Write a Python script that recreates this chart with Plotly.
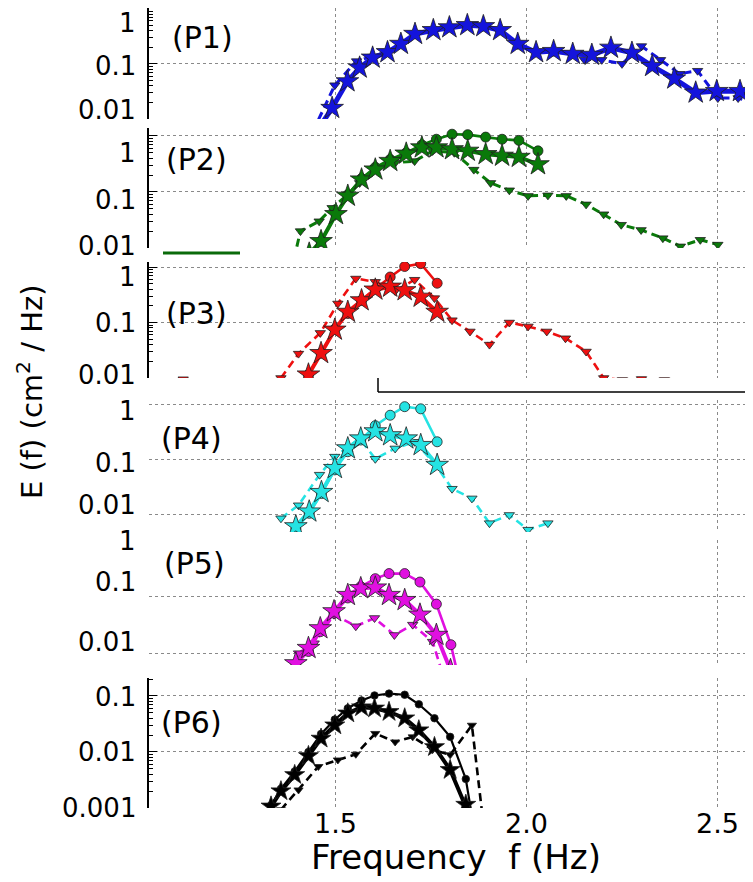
import math
import plotly.graph_objects as go
from plotly.subplots import make_subplots

# ---------------- data (frequency in Hz, E in cm^2/Hz) ----------------
F_P1_STAR = [1.45, 1.49, 1.53, 1.562, 1.596, 1.635, 1.67, 1.707, 1.755, 1.797, 1.844, 1.886, 1.93, 1.976,
             2.024, 2.07, 2.12, 2.17, 2.22, 2.275, 2.328, 2.386, 2.442, 2.497, 2.558, 2.60]
E_P1_STAR = [0.006, 0.0158, 0.048, 0.085, 0.129, 0.162, 0.229, 0.347, 0.407, 0.457, 0.501, 0.479, 0.407, 0.229,
             0.162, 0.170, 0.151, 0.145, 0.195, 0.158, 0.091, 0.054, 0.030, 0.032, 0.032, 0.024]
F_P1_TRI = [1.44, 1.497, 1.554, 1.596, 1.635, 1.67, 1.707, 1.755, 1.797, 1.844, 1.886, 1.93, 1.976, 2.024,
            2.07, 2.12, 2.15, 2.196, 2.249, 2.30, 2.35, 2.40, 2.447, 2.50, 2.553, 2.60]
E_P1_TRI = [0.006, 0.041, 0.112, 0.135, 0.165, 0.23, 0.34, 0.40, 0.45, 0.50, 0.47, 0.40, 0.22, 0.165,
            0.165, 0.15, 0.12, 0.118, 0.10, 0.21, 0.118, 0.066, 0.075, 0.024, 0.024, 0.019]

F_P2_STAR = [1.43, 1.461, 1.5, 1.531, 1.567, 1.603, 1.642, 1.684, 1.725, 1.763, 1.804, 1.845, 1.892, 1.935, 1.979, 2.029]
E_P2_STAR = [0.0079, 0.0132, 0.040, 0.085, 0.166, 0.25, 0.355, 0.48, 0.62, 0.62, 0.575, 0.54, 0.47, 0.44, 0.42, 0.31]
F_P2_CIRC = [1.43, 1.461, 1.5, 1.531, 1.567, 1.603, 1.642, 1.684, 1.725, 1.763, 1.804, 1.845, 1.892, 1.935, 1.979, 2.029]
E_P2_CIRC = [0.0079, 0.0132, 0.040, 0.089, 0.174, 0.275, 0.38, 0.50, 0.69, 0.87, 1.07, 1.05, 0.95, 0.87, 0.83, 0.54]
F_P2_TRI = [1.39, 1.407, 1.456, 1.49, 1.53, 1.562, 1.603, 1.655, 1.706, 1.753, 1.81, 1.861, 1.905, 1.954, 2.003,
            2.055, 2.103, 2.155, 2.201, 2.247, 2.299, 2.356, 2.402, 2.454, 2.50, 2.55]
E_P2_TRI = [0.0063, 0.020, 0.030, 0.052, 0.089, 0.145, 0.27, 0.33, 0.355, 0.54, 0.50, 0.25, 0.145, 0.107, 0.085,
            0.087, 0.085, 0.060, 0.040, 0.026, 0.021, 0.015, 0.0107, 0.014, 0.0115, 0.0063]

F_P3_STAR = [1.40, 1.428, 1.461, 1.497, 1.531, 1.567, 1.603, 1.642, 1.680, 1.722, 1.765]
E_P3_STAR = [0.005, 0.0115, 0.028, 0.074, 0.155, 0.25, 0.39, 0.44, 0.38, 0.29, 0.155]
F_P3_CIRC = [1.40, 1.428, 1.461, 1.497, 1.531, 1.567, 1.603, 1.642, 1.680, 1.722, 1.765]
E_P3_CIRC = [0.005, 0.0115, 0.028, 0.076, 0.145, 0.25, 0.40, 0.66, 1.02, 1.15, 0.51]
F_P3_TRI = [1.10, None, 1.356, 1.402, 1.459, 1.505, 1.552, 1.603, 1.655, 1.706, 1.758, 1.804, 1.851, 1.902,
            1.954, 2.003, 2.052, 2.101, 2.155, 2.201, 2.25, 2.30, 2.36]
E_P3_TRI = [0.0095, None, 0.010, 0.0275, 0.065, 0.22, 0.62, 0.54, 0.37, 0.59, 0.275, 0.11, 0.069, 0.040,
            0.10, 0.085, 0.069, 0.052, 0.030, 0.010, 0.0092, 0.0096, 0.0092]

F_P4_STAR = [1.395, 1.430, 1.462, 1.497, 1.531, 1.565, 1.603, 1.642, 1.684, 1.722, 1.765]
E_P4_STAR = [0.0062, 0.0115, 0.026, 0.071, 0.162, 0.245, 0.33, 0.28, 0.245, 0.186, 0.081]
F_P4_CIRC = [1.395, 1.430, 1.462, 1.497, 1.531, 1.565, 1.603, 1.642, 1.680, 1.722, 1.765]
E_P4_CIRC = [0.0056, 0.0107, 0.0245, 0.066, 0.141, 0.23, 0.42, 0.65, 0.93, 0.85, 0.214]
F_P4_TRI = [1.356, 1.402, 1.457, 1.497, 1.562, 1.603, 1.655, 1.706, 1.758, 1.804, 1.856, 1.902, 1.954, 2.003, 2.055]
E_P4_TRI = [0.0087, 0.015, 0.054, 0.115, 0.245, 0.105, 0.162, 0.214, 0.087, 0.030, 0.020, 0.0071, 0.010, 0.0054, 0.0071]

F_P5_STAR = [1.36, 1.395, 1.428, 1.459, 1.495, 1.531, 1.565, 1.603, 1.639, 1.680, 1.720, 1.763, 1.80, 1.82]
E_P5_STAR = [0.0032, 0.0066, 0.0123, 0.0275, 0.055, 0.107, 0.141, 0.145, 0.107, 0.087, 0.048, 0.021, 0.005, 0.0025]
F_P5_CIRC = [1.36, 1.395, 1.428, 1.459, 1.495, 1.531, 1.565, 1.603, 1.639, 1.680, 1.720, 1.763, 1.801, 1.84]
E_P5_CIRC = [0.0032, 0.0063, 0.0107, 0.024, 0.051, 0.095, 0.151, 0.209, 0.257, 0.257, 0.182, 0.074, 0.0141, 0.001]
F_P5_TRI = [1.402, 1.443, 1.495, 1.552, 1.601, 1.653, 1.701, 1.753, 1.79]
E_P5_TRI = [0.010, 0.015, 0.048, 0.030, 0.042, 0.021, 0.032, 0.016, 0.0025]

F_P6_STAR = [1.30, 1.330, 1.356, 1.392, 1.428, 1.461, 1.497, 1.531, 1.567, 1.601, 1.639, 1.680, 1.717, 1.758, 1.799, 1.840, 1.86]
E_P6_STAR = [0.0005, 0.00107, 0.002, 0.0039, 0.0085, 0.0174, 0.030, 0.049, 0.063, 0.060, 0.052, 0.040, 0.0245, 0.0123, 0.0048, 0.00115, 0.0005]
F_P6_CIRC = [1.30, 1.330, 1.356, 1.392, 1.428, 1.461, 1.497, 1.531, 1.567, 1.601, 1.639, 1.680, 1.717, 1.758, 1.799, 1.840, 1.86]
E_P6_CIRC = [0.0005, 0.00112, 0.0022, 0.0045, 0.010, 0.021, 0.038, 0.060, 0.083, 0.102, 0.110, 0.105, 0.071, 0.040, 0.0186, 0.0033, 0.0005]
F_P6_TRI = [1.356, 1.402, 1.454, 1.505, 1.552, 1.603, 1.655, 1.701, 1.753, 1.799, 1.856, 1.885]
E_P6_TRI = [0.00093, 0.0021, 0.0055, 0.0072, 0.0091, 0.0214, 0.0151, 0.0186, 0.011, 0.0089, 0.030, 0.0006]

PANEL_LABELS = ["(P1)", "(P2)", "(P3)", "(P4)", "(P5)", "(P6)"]
X_TICKS = [1.5, 2.0, 2.5]
X_TICK_TEXT = ["1.5", "2.0", "2.5"]
Y_TICKS = [[1, 0.1, 0.01]] * 5 + [[0.1, 0.01, 0.001]]
Y_TICK_TEXT = [["1", "0.1", "0.01"]] * 5 + [["0.1", "0.01", "0.001"]]
X_TITLE = "Frequency\u00a0\u00a0f (Hz)"
Y_TITLE = "E (f) (cm<sup>2</sup> / Hz)"

# ---------------- styling / layout ----------------
COLORS = ["#1414dc", "#0a7a0a", "#ee1010", "#25e3e3", "#e010e0", "#000000"]
FONT = "DejaVu Sans"
PAGE_OFF = 8                      # the page's default body margin shifts the figure by 8 px
W, H = 753 - PAGE_OFF, 882 - PAGE_OFF
L_M = 149 - PAGE_OFF
PLOT_BOTTOM = 808 - PAGE_OFF
B_M = H - PLOT_BOTTOM
PLOT_W = W - L_M
PLOT_H = PLOT_BOTTOM


def py2paper(py_page):
    return min(1.0, (PLOT_BOTTOM - (py_page - PAGE_OFF)) / PLOT_H)


def px2paper(px_page):
    return (px_page - PAGE_OFF - L_M) / PLOT_W


# panel extents in page pixels (top, bottom) and log10 ranges
PANEL_PIX = [(8, 119), (128, 248), (262, 378), (400, 532), (540, 665), (678, 808)]
PANEL_RANGE = [(-2, 0.012), (-2, 0.14), (-2, 0.09), (-2.31, 0.09), (-2.21, 0.005), (-3, -0.68)]
SHOW_SPINE = [True, True, True, False, False, True]
# vertical offset (px, positive = down) of each tick label from its gridline, as in the original figure
TICK_LABEL_SHIFT = [[14, 2, -9], [17, 8, -2], [10, 0, -3], [6, 3, -10], [1, -15, -11], [1, 0, 0]]

series = [
    (F_P1_STAR, E_P1_STAR, None, None, F_P1_TRI, E_P1_TRI),
    (F_P2_STAR, E_P2_STAR, F_P2_CIRC, E_P2_CIRC, F_P2_TRI, E_P2_TRI),
    (F_P3_STAR, E_P3_STAR, F_P3_CIRC, E_P3_CIRC, F_P3_TRI, E_P3_TRI),
    (F_P4_STAR, E_P4_STAR, F_P4_CIRC, E_P4_CIRC, F_P4_TRI, E_P4_TRI),
    (F_P5_STAR, E_P5_STAR, F_P5_CIRC, E_P5_CIRC, F_P5_TRI, E_P5_TRI),
    (F_P6_STAR, E_P6_STAR, F_P6_CIRC, E_P6_CIRC, F_P6_TRI, E_P6_TRI),
]

fig = make_subplots(rows=6, cols=1, shared_xaxes=True, vertical_spacing=0.01)

edge = dict(color="#202020", width=0.8)
for i, (fs, es, fc, ec, ft, et) in enumerate(series):
    r = i + 1
    c = COLORS[i]
    small = (i == 5)
    fig.add_trace(go.Scatter(x=ft, y=et, mode="lines+markers", connectgaps=False,
                             line=dict(color=c, width=3 if i < 2 else 2.6, dash="8px,5px"),
                             marker=dict(symbol="triangle-down", size=9 if not small else 8, color=c, line=edge),
                             showlegend=False), row=r, col=1)
    if fc is not None:
        fig.add_trace(go.Scatter(x=fc, y=ec, mode="lines+markers",
                                 line=dict(color=c, width=2.6 if not small else 2.2),
                                 marker=dict(symbol="circle", size=10 if not small else 7.5, color=c, line=edge),
                                 showlegend=False), row=r, col=1)
    fig.add_trace(go.Scatter(x=fs, y=es, mode="lines+markers",
                             line=dict(color=c, width=5 if i == 0 else 4),
                             marker=dict(symbol="star", size=17 if not small else 15, color=c, line=edge),
                             showlegend=False), row=r, col=1)

axis_common = dict(showgrid=True, gridcolor="#8a8a8a", gridwidth=1, griddash="dot", zeroline=False,
                   automargin=False)

annotations = []
for i in range(6):
    top, bot = PANEL_PIX[i]
    lo, hi = PANEL_RANGE[i]
    minor_vals = [m * 10 ** d for d in range(int(lo) - 1, int(hi) + 1) for m in range(2, 10)]
    yname = "yaxis" if i == 0 else f"yaxis{i+1}"
    xname = "xaxis" if i == 0 else f"xaxis{i+1}"
    yref = "y" if i == 0 else f"y{i+1}"
    fig.layout[yname].update(
        type="log", domain=[py2paper(bot), py2paper(top)], range=[lo, hi],
        tickmode="array", tickvals=Y_TICKS[i], showticklabels=False,
        showline=SHOW_SPINE[i], linecolor="black", linewidth=1.5,
        ticks="inside" if SHOW_SPINE[i] else "", ticklen=8, tickcolor="black", tickwidth=1.2,
        minor=dict(tickmode="array", tickvals=minor_vals, ticks="inside" if SHOW_SPINE[i] else "",
                   ticklen=4, tickcolor="black", showgrid=False),
        **axis_common)
    fig.layout[xname].update(
        range=[1.0105, 2.592], tickmode="array", tickvals=X_TICKS,
        showline=False, ticks="", showticklabels=False,
        **axis_common)
    # y tick labels, placed from the axis scale
    for v, t, s in zip(Y_TICKS[i], Y_TICK_TEXT[i], TICK_LABEL_SHIFT[i]):
        annotations.append(dict(text=t, xref="paper", x=px2paper(138), yref=yref, y=math.log10(v),
                                yshift=-s, showarrow=False, xanchor="right", yanchor="middle",
                                font=dict(family=FONT, size=26, color="black")))

# x tick labels under the bottom panel, placed from the x scale
for v, t in zip(X_TICKS, X_TICK_TEXT):
    annotations.append(dict(text=t, xref="x6", x=v, yref="paper", y=py2paper(823), showarrow=False,
                            xanchor="center", yanchor="middle", font=dict(family=FONT, size=27, color="black")))

label_x = [202, 196, 196, 191, 194, 191]
label_y = [38, 160, 313, 438, 563, 722]
for i, lab in enumerate(PANEL_LABELS):
    annotations.append(dict(text=lab, x=px2paper(label_x[i]), y=py2paper(label_y[i]), xref="paper", yref="paper",
                            showarrow=False, xanchor="center", yanchor="middle",
                            font=dict(family=FONT, size=30, color="black")))
annotations.append(dict(text=Y_TITLE, x=px2paper(30), y=py2paper(392), xref="paper", yref="paper",
                        showarrow=False, textangle=-90, xanchor="center", yanchor="middle",
                        font=dict(family=FONT, size=29, color="black")))
annotations.append(dict(text=X_TITLE, x=px2paper(456), y=py2paper(857), xref="paper", yref="paper",
                        showarrow=False, xanchor="center", yanchor="middle",
                        font=dict(family=FONT, size=34, color="black")))

shapes = [
    # remnant legend box below panel P3
    dict(type="rect", xref="paper", yref="paper", x0=px2paper(378), x1=1.02, y0=py2paper(392), y1=py2paper(380),
         fillcolor="white", line=dict(width=0), layer="above"),
    dict(type="line", xref="paper", yref="paper", x0=px2paper(378), x1=px2paper(378),
         y0=py2paper(392), y1=py2paper(378), line=dict(color="black", width=1.5), layer="above"),
    dict(type="line", xref="paper", yref="paper", x0=px2paper(378), x1=1.02,
         y0=py2paper(392), y1=py2paper(392), line=dict(color="black", width=1.5), layer="above"),
    # remnant green legend sample below panel P2
    dict(type="line", xref="paper", yref="paper", x0=px2paper(163), x1=px2paper(240),
         y0=py2paper(253), y1=py2paper(253), line=dict(color="#0a6a0a", width=3), layer="above"),
]

fig.update_layout(
    width=W, height=H, margin=dict(l=L_M, r=0, t=0, b=B_M, autoexpand=False),
    plot_bgcolor="white", paper_bgcolor="white",
    annotations=annotations, shapes=shapes, showlegend=False,
    font=dict(family=FONT, color="black"),
)

fig.write_html("out.html")
